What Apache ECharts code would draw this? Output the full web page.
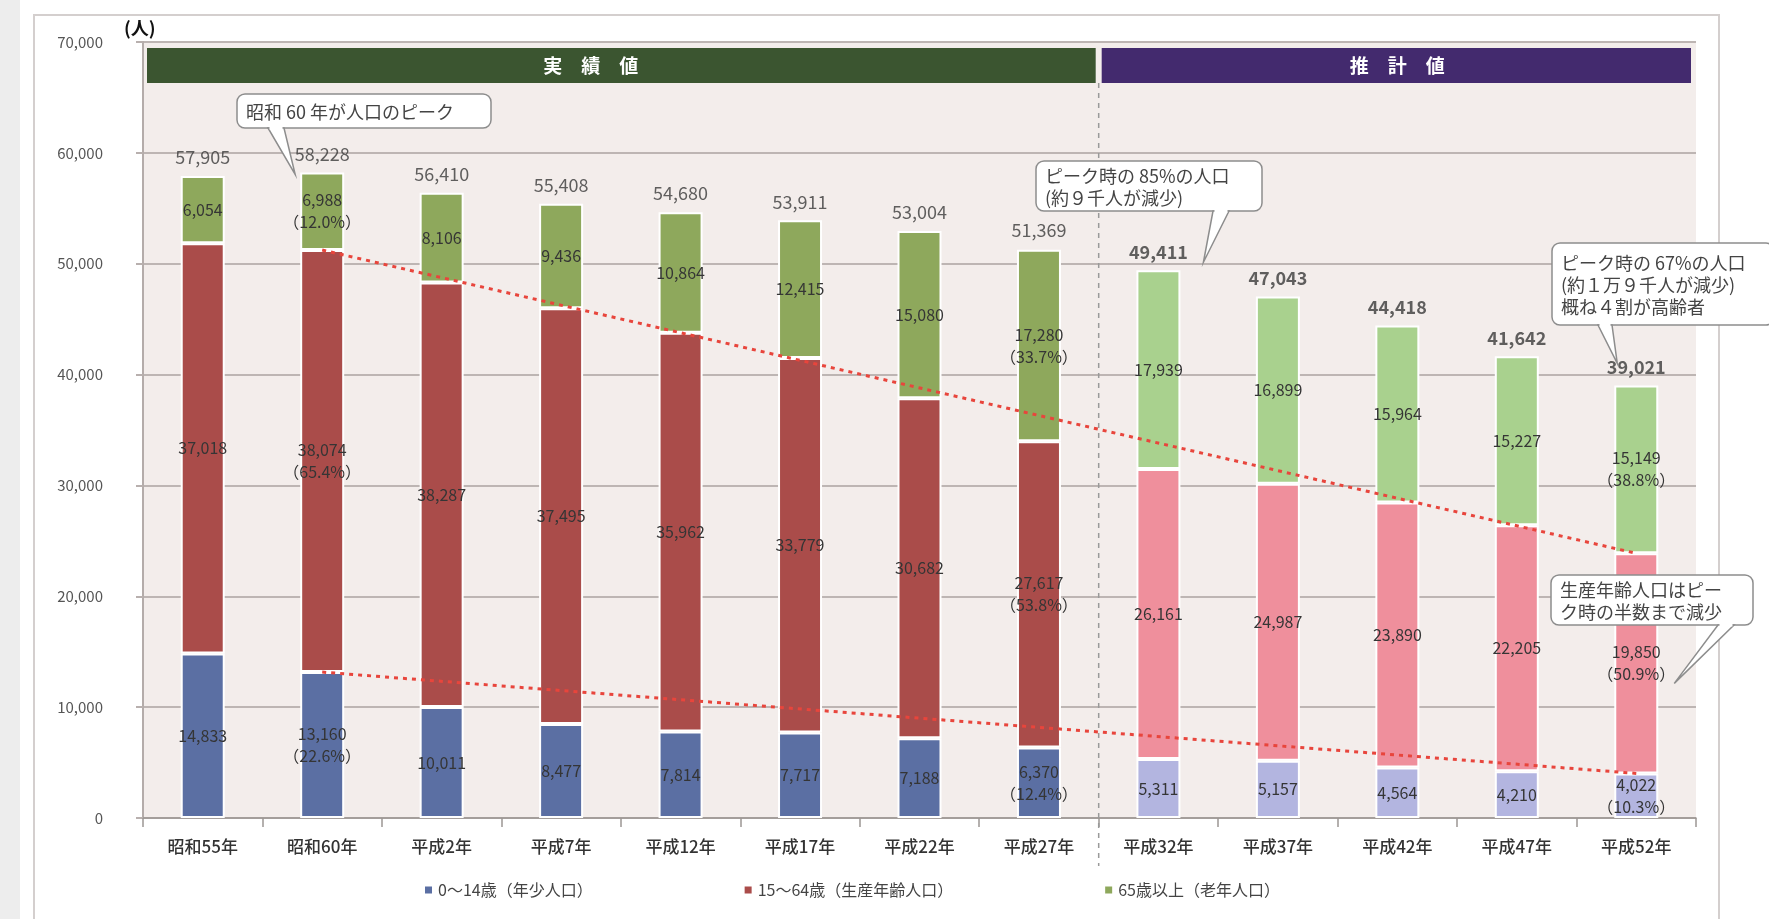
<!DOCTYPE html>
<html>
<head>
<meta charset="utf-8">
<style>
  html, body { margin: 0; padding: 0; background: #fff; }
  #chart { width: 1769px; height: 919px; }
</style>
<script src="https://cdn.jsdelivr.net/npm/echarts@6.0.0/dist/echarts.min.js"></script>
</head>
<body>
<div id="chart"></div>
<script>
// 年齢3区分別人口の推移（人）
const categories = ['昭和55年', '昭和60年', '平成2年', '平成7年', '平成12年', '平成17年', '平成22年',
  '平成27年', '平成32年', '平成37年', '平成42年', '平成47年', '平成52年'];
const young = [14833, 13160, 10011, 8477, 7814, 7717, 7188, 6370, 5311, 5157, 4564, 4210, 4022];
const working = [37018, 38074, 38287, 37495, 35962, 33779, 30682, 27617, 26161, 24987, 23890, 22205, 19850];
const elderly = [6054, 6988, 8106, 9436, 10864, 12415, 15080, 17280, 17939, 16899, 15964, 15227, 15149];
const totals = [57905, 58228, 56410, 55408, 54680, 53911, 53004, 51369, 49411, 47043, 44418, 41642, 39021];
const youngPct = ['', '22.6%', '', '', '', '', '', '12.4%', '', '', '', '', '10.3%'];
const workingPct = ['', '65.4%', '', '', '', '', '', '53.8%', '', '', '', '', '50.9%'];
const elderlyPct = ['', '12.0%', '', '', '', '', '', '33.7%', '', '', '', '', '38.8%'];
const legendNames = ['0〜14歳（年少人口）', '15〜64歳（生産年齢人口）', '65歳以上（老年人口）'];
const projStart = 8;   // 平成32年から推計値
const peakIndex = 1;   // 昭和60年

const FONT = '"Noto Sans CJK JP", "Noto Sans", sans-serif';
const actualColors = ['#5B6FA3', '#AA4C4A', '#8EA85C'];
const projColors = ['#B3B5E0', '#EF8F9C', '#A9D18E'];

const fmt = v => v.toLocaleString('en-US');

function segData(values, k) {
  return values.map((v, i) => ({
    value: v,
    itemStyle: { color: i >= projStart ? projColors[k] : actualColors[k] }
  }));
}

function segLabel(pcts) {
  return {
    show: true,
    position: 'inside',
    fontFamily: FONT,
    fontSize: 16,
    lineHeight: 22,
    color: '#353535',
    formatter: p => fmt(p.value) + (pcts[p.dataIndex] ? '\n（' + pcts[p.dataIndex] + '）' : '')
  };
}

function barSeries(name, values, pcts, k) {
  return {
    name: name,
    type: 'bar',
    stack: 'pop',
    barWidth: 44,
    data: segData(values, k),
    itemStyle: { color: actualColors[k], borderColor: '#fff', borderWidth: 2 },
    label: segLabel(pcts),
    z: 3
  };
}

// 昭和60年（ピーク）と平成52年を結ぶ点線
const topLine = categories.map((c, i) => (i === peakIndex || i === categories.length - 1) ? young[i] + working[i] : null);
const lowLine = categories.map((c, i) => (i === peakIndex || i === categories.length - 1) ? young[i] : null);

const chart = echarts.init(document.getElementById('chart'), null, { renderer: 'canvas' });

const option = {
  animation: false,
  backgroundColor: '#fff',
  textStyle: { fontFamily: FONT },
  grid: {
    left: 143, right: 73, top: 42, bottom: 101,
    show: true, backgroundColor: '#F3EDEB', borderWidth: 0
  },
  legend: {
    data: legendNames,
    left: 418,
    top: 877,
    itemWidth: 9,
    itemHeight: 9,
    itemGap: 150,
    icon: 'rect',
    textStyle: { fontFamily: FONT, fontSize: 16, color: '#444' }
  },
  xAxis: {
    type: 'category',
    data: categories,
    axisLine: { lineStyle: { color: '#9c9694', width: 1.5 } },
    axisTick: { show: true, length: 9, lineStyle: { color: '#9c9694', width: 1.5 } },
    axisLabel: { fontFamily: FONT, fontSize: 17, fontWeight: 500, color: '#333', margin: 20 }
  },
  yAxis: {
    type: 'value',
    min: 0,
    max: 70000,
    interval: 10000,
    axisLine: { show: true, lineStyle: { color: '#B4ACAA', width: 2 } },
    axisTick: { show: true, length: 7, lineStyle: { color: '#B8B0AE', width: 2 } },
    splitLine: { lineStyle: { color: '#BDB5B3', width: 2 } },
    axisLabel: { fontFamily: FONT, fontSize: 15, color: '#555', margin: 40, formatter: v => fmt(v) }
  },
  series: [
    barSeries(legendNames[0], young, youngPct, 0),
    barSeries(legendNames[1], working, workingPct, 1),
    barSeries(legendNames[2], elderly, elderlyPct, 2),
    {
      type: 'line',
      data: topLine,
      connectNulls: true,
      symbol: 'none',
      lineStyle: { color: '#E8453C', width: 3, type: [4, 5] },
      z: 5,
      silent: true
    },
    {
      type: 'line',
      data: lowLine,
      connectNulls: true,
      symbol: 'none',
      lineStyle: { color: '#E8453C', width: 3, type: [4, 5] },
      z: 5,
      silent: true
    },
    {
      type: 'scatter',
      data: totals.map((v, i) => ({
        value: v,
        label: { fontWeight: i >= projStart ? 'bold' : 'normal' }
      })),
      symbolSize: 1,
      itemStyle: { color: 'rgba(0,0,0,0)' },
      label: {
        show: true,
        position: 'top',
        distance: 9,
        fontFamily: FONT,
        fontSize: 18,
        color: '#3a3a3a',
        formatter: p => fmt(p.value)
      },
      z: 6
    }
  ]
};

chart.setOption(option);

// ---- 装飾（見出し帯、区切り線、吹き出し） ----
const px = (i, v) => chart.convertToPixel({ gridIndex: 0 }, [i, v]);
const gridLeft = 143, gridRight = 1769 - 73, gridTop = 42;
const sepX = (px(projStart - 1, 0)[0] + px(projStart, 0)[0]) / 2;

function callout(box, lines, base, tip) {
  return {
    type: 'group',
    children: [
      {
        type: 'rect',
        shape: { x: box[0], y: box[1], width: box[2], height: box[3], r: 8 },
        style: { fill: '#fff', stroke: '#8d8d8d', lineWidth: 1.5 },
        z: 20
      },
      {
        type: 'polygon',
        shape: { points: [base[0], base[1], tip] },
        style: { fill: '#fff', stroke: '#8d8d8d', lineWidth: 1.5 },
        z: 21
      },
      {
        type: 'line',
        shape: { x1: base[0][0] + 1.5, y1: base[0][1], x2: base[1][0] - 1.5, y2: base[1][1] },
        style: { stroke: '#fff', lineWidth: 3 },
        z: 22
      },
      {
        type: 'text',
        style: {
          x: box[0] + 9, y: box[1] + box[3] / 2 + 1,
          text: lines.join('\n'),
          fontFamily: FONT, fontSize: 18, lineHeight: 22,
          fill: '#444', verticalAlign: 'middle', align: 'left'
        },
        z: 23
      }
    ]
  };
}

const last = categories.length - 1;
const peakTop = px(peakIndex, totals[peakIndex]);
const p32Top = px(projStart, totals[projStart]);
const lastTop = px(last, totals[last]);
const lastWork = px(last, young[last] + working[last] / 2);

chart.setOption({
  graphic: [
    { type: 'rect', shape: { x: 0, y: 0, width: 20, height: 919 }, style: { fill: '#EDEDED' }, z: 0 },
    { type: 'rect', shape: { x: 34, y: 15, width: 1685, height: 940 }, style: { fill: 'none', stroke: '#D4CFCE', lineWidth: 2 }, z: 0 },
    { type: 'text', style: { x: 124, y: 28, text: '(人)', fontFamily: FONT, fontSize: 18, fontWeight: 'bold', fill: '#111', verticalAlign: 'middle' }, z: 10 },
    // 実績値 / 推計値 の帯
    { type: 'rect', shape: { x: gridLeft + 4, y: gridTop + 6, width: sepX - 3 - (gridLeft + 4), height: 35 }, style: { fill: '#3B5530' }, z: 10 },
    { type: 'rect', shape: { x: sepX + 3, y: gridTop + 6, width: gridRight - 5 - (sepX + 3), height: 35 }, style: { fill: '#432A6E' }, z: 10 },
    { type: 'text', style: { x: (gridLeft + sepX) / 2 - 30, y: gridTop + 24, text: '実　績　値', fontFamily: FONT, fontSize: 19, fontWeight: 'bold', fill: '#fff', align: 'center', verticalAlign: 'middle' }, z: 11 },
    { type: 'text', style: { x: (sepX + gridRight) / 2, y: gridTop + 24, text: '推　計　値', fontFamily: FONT, fontSize: 19, fontWeight: 'bold', fill: '#fff', align: 'center', verticalAlign: 'middle' }, z: 11 },
    // 区切りの点線
    { type: 'line', shape: { x1: sepX, y1: gridTop + 41, x2: sepX, y2: 866 }, style: { stroke: '#9a9a9a', lineWidth: 1.5, lineDash: [5, 5] }, z: 4 },
    callout([237, 94, 254, 34], ['昭和 60 年が人口のピーク'],
      [[268, 128], [284, 128]], [peakTop[0] - 27, peakTop[1] + 2]),
    callout([1036, 161, 226, 50], ['ピーク時の 85%の人口', '(約９千人が減少)'],
      [[1213, 211], [1229, 211]], [p32Top[0] + 45, p32Top[1] - 8]),
    callout([1552, 243, 222, 82], ['ピーク時の 67%の人口', '(約１万９千人が減少)', '概ね４割が高齢者'],
      [[1598, 325], [1612, 325]], [lastTop[0] - 19, lastTop[1] - 22]),
    callout([1551, 575, 202, 50], ['生産年齢人口はピー', 'ク時の半数まで減少'],
      [[1718, 625], [1734, 625]], [lastWork[0] + 38, lastWork[1] + 20])
  ]
});
</script>
</body>
</html>
